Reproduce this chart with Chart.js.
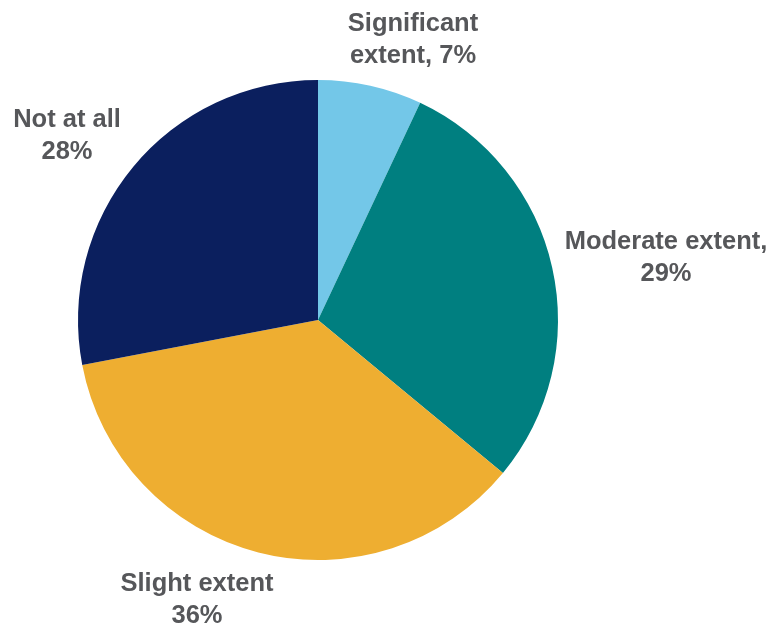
<!DOCTYPE html>
<html>
<head>
<meta charset="utf-8">
<script src="https://cdn.jsdelivr.net/npm/chart.js@4/dist/chart.umd.min.js"></script>
<style>
  body { margin: 0; background: #fff; }
</style>
</head>
<body>
<canvas id="pie" width="777" height="630"></canvas>
<script>
let categories = ["Significant extent", "Moderate extent", "Slight extent", "Not at all"];
let values = [7, 29, 36, 28];
let colors = ["#73C7E8", "#007F80", "#EEAE31", "#0B1F5E"];
// label text lines, one list per slice
let labelLines = [
  ["Significant", "extent, 7%"],
  ["Moderate extent,", "29%"],
  ["Slight extent", "36%"],
  ["Not at all", "28%"]
];
// where each label sits, relative to pie centre
let labelOffsets = [
  [95, -280],
  [348, -62],
  [-121, 280],
  [-251, -184]
];

let outsideLabels = {
  id: "outsideLabels",
  afterDraw(chart) {
    let ctx = chart.ctx;
    let arcs = chart.getDatasetMeta(0).data;
    ctx.save();
    ctx.font = "bold 25.5px 'Liberation Sans', Arial, sans-serif";
    ctx.fillStyle = "#56575A";
    ctx.textAlign = "center";
    ctx.textBaseline = "middle";
    arcs.forEach((arc, i) => {
      let lines = labelLines[i];
      let cx = arc.x + labelOffsets[i][0];
      let cy = arc.y + labelOffsets[i][1];
      let lh = 32;
      let top = cy - (lines.length - 1) * lh / 2;
      lines.forEach((t, j) => {
        ctx.fillText(t, cx, top + j * lh);
      });
    });
    ctx.restore();
  }
};

let myChart = new Chart(document.getElementById("pie"), {
  type: "pie",
  data: {
    labels: categories,
    datasets: [
      {
        data: values,
        backgroundColor: colors,
        borderWidth: 0
      }
    ]
  },
  options: {
    responsive: false,
    animation: false,
    layout: { padding: { left: 78, right: 219, top: 80, bottom: 70 } },
    plugins: {
      legend: { display: false },
      tooltip: { enabled: false }
    }
  },
  plugins: [outsideLabels]
});
</script>
</body>
</html>
